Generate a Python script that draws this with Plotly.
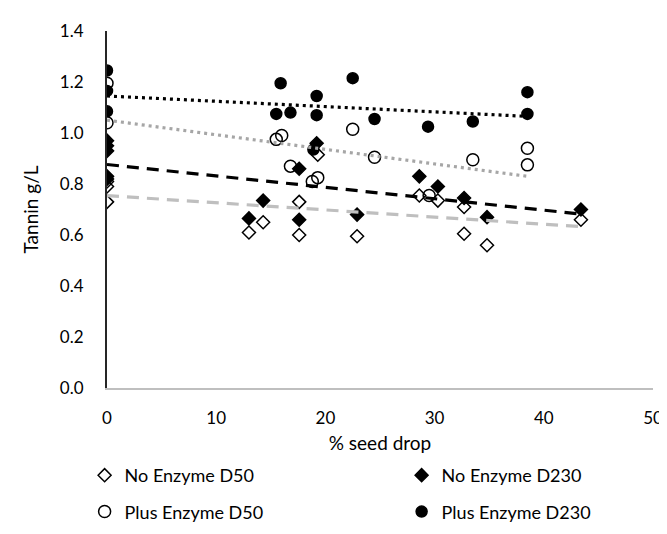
import numpy as np
import plotly.graph_objects as go

# ---- data ----
no_d50_x = [0, 0, 0, 13.0, 14.3, 17.6, 17.6, 19.3, 22.9, 28.6, 30.3, 32.7, 32.7, 34.8, 43.4]
no_d50_y = [0.81, 0.79, 0.73, 0.61, 0.65, 0.73, 0.60, 0.915, 0.595, 0.755, 0.735, 0.71, 0.605, 0.56, 0.66]

no_d230_x = [0, 0, 0, 0, 0, 13.0, 14.3, 17.6, 17.6, 19.2, 22.9, 28.6, 30.3, 32.7, 34.8, 43.4]
no_d230_y = [0.97, 0.95, 0.93, 0.83, 0.82, 0.665, 0.735, 0.86, 0.66, 0.96, 0.68, 0.83, 0.79, 0.745, 0.67, 0.70]

plus_d50_x = [0, 0, 15.5, 16.0, 16.8, 18.8, 19.3, 22.5, 24.5, 29.5, 33.5, 38.5, 38.5]
plus_d50_y = [1.195, 1.04, 0.975, 0.99, 0.87, 0.81, 0.825, 1.015, 0.905, 0.755, 0.895, 0.94, 0.875]

plus_d230_x = [0, 0, 0, 15.5, 15.9, 16.8, 18.9, 19.2, 19.2, 22.5, 24.5, 29.4, 33.5, 38.5, 38.5]
plus_d230_y = [1.245, 1.165, 1.085, 1.075, 1.195, 1.08, 0.935, 1.145, 1.07, 1.215, 1.055, 1.025, 1.045, 1.16, 1.075]

series_names = ["No Enzyme D50", "No Enzyme D230", "Plus Enzyme D50", "Plus Enzyme D230"]
x_ticks = [0, 10, 20, 30, 40, 50]
y_ticks = [0.0, 0.2, 0.4, 0.6, 0.8, 1.0, 1.2, 1.4]

FONT = "Lato"
# (x, y, name, symbol, size, trend colour, dash, legend, legend item width)
series = [
    (no_d50_x, no_d50_y, series_names[0], "diamond-open", 10, "#BFBFBF", "12px,8px", "legend", 272),
    (no_d230_x, no_d230_y, series_names[1], "diamond", 10, "black", "12px,8px", "legend", None),
    (plus_d50_x, plus_d50_y, series_names[2], "circle-open", 12, "#A6A6A6", "3px,4px", "legend2", 272),
    (plus_d230_x, plus_d230_y, series_names[3], "circle", 11, "black", "3px,4px", "legend2", None),
]

fig = go.Figure()
for xs, ys, name, sym, size, lc, dash, lg, lw in series:
    kw = {}
    if lw:
        kw["legendwidth"] = lw
    fig.add_trace(go.Scatter(
        x=xs, y=ys, mode="markers", name=name, legend=lg,
        marker=dict(symbol=sym, size=size, color="black",
                    line=dict(color="black", width=1.5)),
        **kw,
    ))

for xs, ys, name, sym, size, lc, dash, lg, lw in series:
    k, b = np.polyfit(xs, ys, 1)
    xl = np.array([0, max(xs)])
    fig.add_trace(go.Scatter(
        x=xl, y=k * xl + b, mode="lines", showlegend=False, hoverinfo="skip",
        line=dict(color=lc, width=3.2, dash=dash),
    ))

fig.update_layout(
    width=667, height=534,
    margin=dict(l=99, r=13, t=22, b=137),
    paper_bgcolor="white", plot_bgcolor="white",
    font=dict(family=FONT, size=17, color="black"),
    legend=dict(orientation="h", x=-0.041, xanchor="left", y=-0.245, yanchor="middle",
                font=dict(size=18), bgcolor="rgba(0,0,0,0)"),
    legend2=dict(orientation="h", x=-0.041, xanchor="left", y=-0.347, yanchor="middle",
                 font=dict(size=18), bgcolor="rgba(0,0,0,0)"),
)
fig.update_xaxes(
    range=[0, 50], tickvals=x_ticks, ticktext=[str(v) for v in x_ticks],
    showgrid=False, zeroline=False, showline=True, linecolor="#BFBFBF", linewidth=1.5,
    ticks="", ticklabelstandoff=14,
    title=dict(text="% seed drop", font=dict(size=19), standoff=10),
)
fig.update_yaxes(
    range=[0, 1.4], tickvals=y_ticks, ticktext=[f"{v:.1f}" for v in y_ticks],
    showgrid=False, zeroline=False, showline=True, linecolor="#262626", linewidth=2,
    ticks="", ticklabelstandoff=18,
    title=dict(text="Tannin g/L", font=dict(size=19), standoff=16),
)

fig.write_html("out.html")
